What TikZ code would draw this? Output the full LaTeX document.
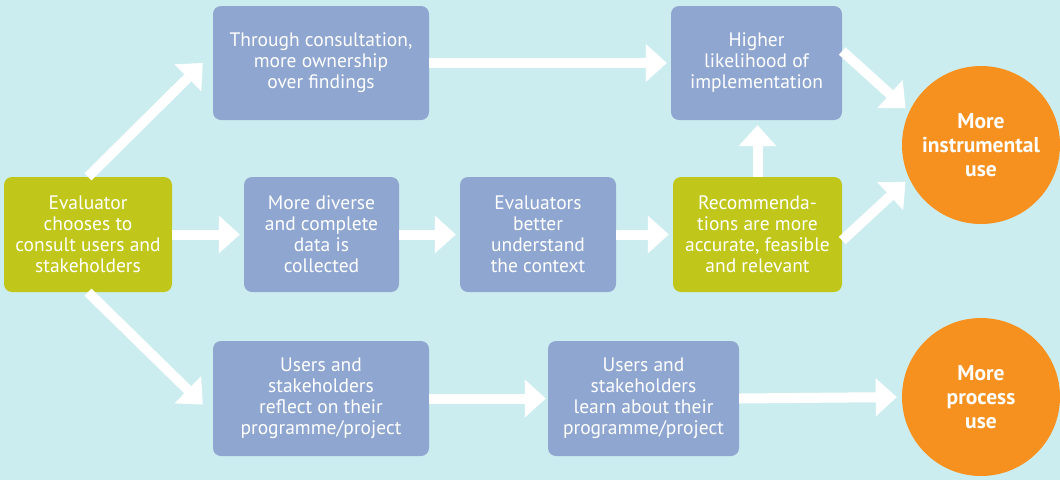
\documentclass[tikz,border=0pt]{standalone}
\usepackage{fontspec}
\setmainfont{PT Sans}
\usetikzlibrary{arrows.meta,calc}
\definecolor{bg}{HTML}{CCEDEF}
\definecolor{bluebox}{HTML}{8FA6D0}
\definecolor{greenbox}{HTML}{C0C71A}
\definecolor{orangec}{HTML}{F6901E}
\begin{document}
\begin{tikzpicture}[x=1pt,y=-1pt,
  box/.style={rounded corners=8pt, text=white, align=center, inner sep=0pt,
    font=\fontsize{19.5}{21}\selectfont},
  bluebx/.style={box, fill=bluebox},
  greenbx/.style={box, fill=greenbox},
  outc/.style={circle, fill=orangec, minimum size=158pt, inner sep=0pt, text=white,
    align=center, font=\bfseries\fontsize{21.5}{24}\selectfont},
  arr/.style={draw=white, line width=10pt,
    -{Triangle[length=21pt,width=38pt,line width=0pt]}}]
\fill[bg] (0,0) rectangle (1060,480);
\useasboundingbox (0,0) rectangle (1060,480);

\node[greenbx, minimum width=168pt, minimum height=115pt] (ev) at (88,234.5)
  {Evaluator\\chooses to\\consult users and\\stakeholders};
\node[bluebx, minimum width=216pt, minimum height=114pt] (th) at (321,63)
  {Through consultation,\\more ownership\\over findings};
\node[bluebx, minimum width=155pt, minimum height=115pt] (md) at (321.5,234.5)
  {More diverse\\and complete\\data is\\collected};
\node[bluebx, minimum width=156pt, minimum height=115pt] (eb) at (538,234.5)
  {Evaluators\\better\\understand\\the context};
\node[greenbx, minimum width=169pt, minimum height=115pt] (rc) at (757.5,234.5)
  {Recommenda-\\tions are more\\accurate, feasible\\and relevant};
\node[bluebx, minimum width=171pt, minimum height=114pt] (hl) at (756.5,63)
  {Higher\\likelihood of\\implementation};
\node[bluebx, minimum width=216pt, minimum height=115pt] (ur) at (321,398.5)
  {Users and\\stakeholders\\reflect on their\\programme/project};
\node[bluebx, minimum width=191pt, minimum height=115pt] (ul) at (643.5,398.5)
  {Users and\\stakeholders\\learn about their\\programme/project};
\node[outc] (ci) at (981,145) {More\\instrumental\\use};
\node[outc] (cp) at (981,397) {More\\process\\use};

\draw[arr] (ev.north) -- ($(th.west)+(-10,0)$);
\draw[arr] (ev.south) -- ($(ur.west)+(-10,6)$);
\draw[arr, shorten >=4pt] (ev.east) -- (md.west);
\draw[arr, shorten >=4pt] (md.east) -- (eb.west);
\draw[arr, shorten >=4pt] (eb.east) -- (rc.west);
\draw[arr, shorten >=5pt] (rc.north) -- (rc.north |- hl.south);
\draw[arr, shorten >=4pt] (th.east) -- (hl.west);
\draw[arr, shorten >=5pt] ($(hl.east)+(0,-12)$) -- (ci.155);
\draw[arr, shorten >=5pt] ($(rc.east)+(0,6)$) -- (ci.205);
\draw[arr, shorten >=2pt] (ur.east) -- (ul.west);
\draw[arr, shorten >=5pt] (ul.east) -- (cp.west);
\end{tikzpicture}
\end{document}
